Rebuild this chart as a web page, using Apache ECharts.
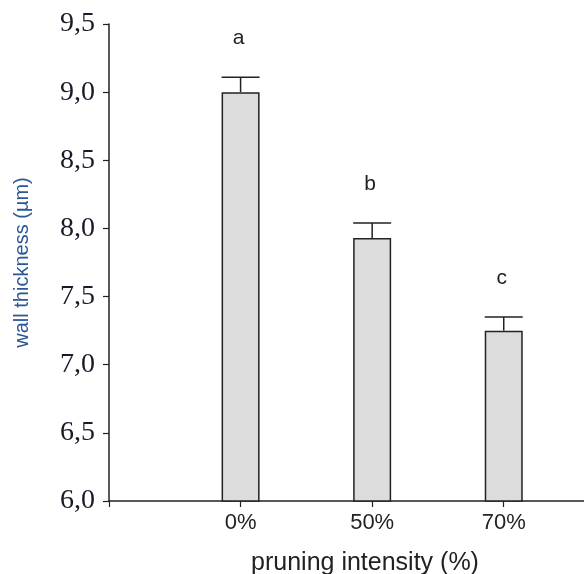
<!DOCTYPE html>
<html>
<head>
<meta charset="utf-8">
<script src="https://cdn.jsdelivr.net/npm/echarts@6/dist/echarts.min.js"></script>
<style>html,body{margin:0;padding:0;background:#fff}#c{width:584px;height:574px}</style>
</head>
<body>
<div id="c"></div>
<script>
var categories = ['0%', '50%', '70%'];
var means = [9.00, 7.93, 7.25];
var errors = [0.11, 0.11, 0.10];
var letters = ['a', 'b', 'c'];
var yTicks = [6.0, 6.5, 7.0, 7.5, 8.0, 8.5, 9.0, 9.5];

var chart = echarts.init(document.getElementById('c'));
var barData = categories.map(function (c, i) { return [i + 1, means[i]]; });
var errData = categories.map(function (c, i) { return [i + 1, means[i], means[i] + errors[i], letters[i]]; });

chart.setOption({
  animation: false,
  grid: { left: 109, right: 0, top: 24, bottom: 73 },
  xAxis: {
    type: 'value', min: 0, max: 3.61, interval: 1,
    splitLine: { show: false },
    axisLine: { show: true, lineStyle: { color: '#222', width: 1.5 } },
    axisTick: { show: true, length: 6, customValues: [0, 1, 2, 3], lineStyle: { color: '#222', width: 1.2 } },
    axisLabel: {
      margin: 11, fontFamily: 'Liberation Sans', fontSize: 22, color: '#222',
      customValues: [1, 2, 3],
      formatter: function (v) { var k = Math.round(v); return (k >= 1 && k <= categories.length) ? categories[k - 1] : ''; }
    }
  },
  yAxis: {
    type: 'value', min: yTicks[0], max: yTicks[yTicks.length - 1], interval: 0.5,
    splitLine: { show: false },
    name: 'wall thickness (µm)', nameLocation: 'middle', nameGap: 77,
    nameTextStyle: { fontFamily: 'Liberation Sans', fontSize: 20, color: '#2b5797' },
    axisLine: { show: true, onZero: false, lineStyle: { color: '#222', width: 1.5 } },
    axisTick: { show: true, length: 6, lineStyle: { color: '#222', width: 1.2 } },
    axisLabel: {
      margin: 14, fontFamily: 'Liberation Serif', fontSize: 28, color: '#1a1a2a',
      formatter: function (v) { return v.toFixed(1).replace('.', ','); }
    }
  },
  graphic: [{
    type: 'text', x: 365, y: 563,
    style: { text: 'pruning intensity (%)', font: '25px "Liberation Sans"', fill: '#222', textAlign: 'center', textVerticalAlign: 'middle' }
  }],
  series: [{
    type: 'bar', data: barData, barWidth: 38,
    itemStyle: { color: '#dcdcdc', borderColor: '#222', borderWidth: 1.5 }
  }, {
    type: 'custom', data: errData,
    renderItem: function (params, api) {
      var x = api.value(0);
      var top = api.coord([x, api.value(2)]);
      var base = api.coord([x, api.value(1)]);
      var hw = 19;
      return {
        type: 'group', children: [
          { type: 'line', shape: { x1: top[0], y1: top[1], x2: base[0], y2: base[1] }, style: { stroke: '#222', lineWidth: 1.5 } },
          { type: 'line', shape: { x1: top[0] - hw, y1: top[1], x2: top[0] + hw, y2: top[1] }, style: { stroke: '#222', lineWidth: 1.5 } },
          { type: 'text', style: { text: api.value(3), x: top[0] - 2, y: top[1] - 28, textAlign: 'center', textVerticalAlign: 'bottom', font: '21px "Liberation Sans"', fill: '#222' } }
        ]
      };
    }
  }]
});
</script>
</body>
</html>
